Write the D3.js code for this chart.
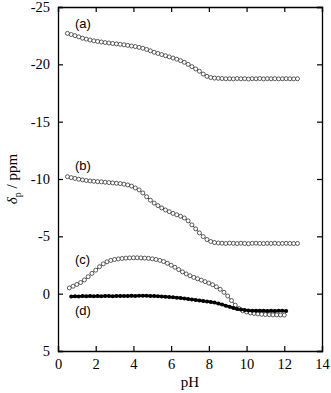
<!DOCTYPE html>
<html><head><meta charset="utf-8">
<script src="https://cdn.jsdelivr.net/npm/d3@7"></script>
<style>body{margin:0;background:#fff;}svg{display:block;}</style>
</head><body>
<script>
// ---- data ----
const pHA = [0.5,0.7,0.9,1.1,1.3,1.5,1.7,1.9,2.1,2.3,2.5,2.7,2.9,3.1,3.3,3.5,3.7,3.9,4.1,4.3,4.5,4.7,4.9,5.1,5.3,5.5,5.7,5.9,6.1,6.3,6.5,6.7,6.9,7.1,7.3,7.5,7.7,7.9,8.1,8.3,8.5,8.7,8.9,9.1,9.3,9.5,9.7,9.9,10.1,10.3,10.5,10.7,10.9,11.1,11.3,11.5,11.7,11.9,12.1,12.3,12.5,12.7];
const shiftA = [-22.7,-22.6,-22.5,-22.4,-22.28,-22.2,-22.12,-22.05,-22.0,-21.95,-21.9,-21.86,-21.82,-21.78,-21.75,-21.7,-21.65,-21.6,-21.55,-21.48,-21.4,-21.3,-21.18,-21.05,-20.95,-20.85,-20.75,-20.65,-20.55,-20.45,-20.32,-20.18,-20.0,-19.8,-19.6,-19.4,-19.15,-18.95,-18.85,-18.8,-18.78,-18.76,-18.74,-18.75,-18.73,-18.76,-18.74,-18.75,-18.72,-18.75,-18.74,-18.76,-18.73,-18.75,-18.74,-18.75,-18.73,-18.74,-18.75,-18.74,-18.73,-18.74];
const pHB = [0.5,0.7,0.9,1.1,1.3,1.5,1.7,1.9,2.1,2.3,2.5,2.7,2.9,3.1,3.3,3.5,3.7,3.9,4.1,4.3,4.5,4.7,4.9,5.1,5.3,5.5,5.7,5.9,6.1,6.3,6.5,6.7,6.9,7.1,7.3,7.5,7.7,7.9,8.1,8.3,8.5,8.7,8.9,9.1,9.3,9.5,9.7,9.9,10.1,10.3,10.5,10.7,10.9,11.1,11.3,11.5,11.7,11.9,12.1,12.3,12.5,12.7];
const shiftB = [-10.2,-10.12,-10.05,-9.98,-9.92,-9.87,-9.83,-9.8,-9.77,-9.75,-9.72,-9.69,-9.66,-9.63,-9.6,-9.55,-9.48,-9.38,-9.22,-9.05,-8.78,-8.45,-8.15,-7.9,-7.68,-7.48,-7.3,-7.15,-7.0,-6.88,-6.75,-6.6,-6.35,-6.0,-5.65,-5.3,-4.98,-4.72,-4.55,-4.46,-4.42,-4.4,-4.38,-4.41,-4.39,-4.37,-4.4,-4.38,-4.36,-4.39,-4.4,-4.38,-4.37,-4.39,-4.38,-4.4,-4.37,-4.38,-4.39,-4.38,-4.37,-4.38];
const pHC = [0.6,0.8,1.0,1.2,1.4,1.6,1.8,2.0,2.2,2.4,2.6,2.8,3.0,3.2,3.4,3.6,3.8,4.0,4.2,4.4,4.6,4.8,5.0,5.2,5.4,5.6,5.8,6.0,6.2,6.4,6.6,6.8,7.0,7.2,7.4,7.6,7.8,8.0,8.2,8.4,8.6,8.8,9.0,9.2,9.4,9.6,9.8,10.0,10.2,10.4,10.6,10.8,11.0,11.2,11.4,11.6,11.8,12.0];
const shiftC = [-0.5,-0.65,-0.8,-0.97,-1.2,-1.48,-1.77,-2.05,-2.35,-2.6,-2.78,-2.9,-2.98,-3.03,-3.07,-3.1,-3.12,-3.13,-3.13,-3.12,-3.1,-3.08,-3.04,-2.98,-2.9,-2.8,-2.65,-2.48,-2.3,-2.1,-1.9,-1.72,-1.56,-1.42,-1.3,-1.18,-1.05,-0.92,-0.78,-0.6,-0.38,-0.12,0.2,0.6,1.0,1.3,1.5,1.6,1.68,1.73,1.77,1.8,1.82,1.83,1.85,1.85,1.86,1.87];
const pHD = [0.7,0.9,1.1,1.3,1.5,1.7,1.9,2.1,2.3,2.5,2.7,2.9,3.1,3.3,3.5,3.7,3.9,4.1,4.3,4.5,4.7,4.9,5.1,5.3,5.5,5.7,5.9,6.1,6.3,6.5,6.7,6.9,7.1,7.3,7.5,7.7,7.9,8.1,8.3,8.5,8.7,8.9,9.1,9.3,9.5,9.7,9.9,10.1,10.3,10.5,10.7,10.9,11.1,11.3,11.5,11.7,11.9,12.1];
const shiftD = [0.25,0.22,0.24,0.2,0.23,0.21,0.22,0.2,0.22,0.21,0.2,0.22,0.2,0.21,0.2,0.2,0.19,0.2,0.18,0.19,0.18,0.2,0.2,0.22,0.24,0.27,0.3,0.32,0.35,0.38,0.42,0.46,0.5,0.55,0.6,0.64,0.68,0.72,0.78,0.86,0.95,1.05,1.15,1.25,1.33,1.39,1.43,1.46,1.48,1.5,1.5,1.5,1.51,1.5,1.51,1.5,1.5,1.51];
const seriesLabels = ["(a)","(b)","(c)","(d)"];
const xTicks = [0,2,4,6,8,10,12,14];
const yTicks = [-25,-20,-15,-10,-5,0,5];

// ---- layout ----
const W = 331, H = 393;
const m = {left:58, top:7, right:9, bottom:42};
const svg = d3.select("body").append("svg").attr("width",W).attr("height",H);
const x = d3.scaleLinear().domain([0,14]).range([m.left, W-m.right]);
const y = d3.scaleLinear().domain([-25,5]).range([m.top, H-m.bottom]);

const serif = "'Liberation Serif','Times New Roman',serif";
const sans = "'Liberation Sans',Arial,sans-serif";

// axes with inward ticks
const tl = 5;
const gB = svg.append("g").attr("transform",`translate(0,${y(5)})`)
  .call(d3.axisBottom(x).tickValues(xTicks).tickSize(-tl).tickPadding(8).tickFormat(d3.format("d")));
const gT = svg.append("g").attr("transform",`translate(0,${y(-25)})`)
  .call(d3.axisTop(x).tickValues(xTicks).tickSize(-tl).tickFormat(""));
const gL = svg.append("g").attr("transform",`translate(${x(0)},0)`)
  .call(d3.axisLeft(y).tickValues(yTicks).tickSize(-tl).tickPadding(8).tickFormat(d3.format("d")));
const gR = svg.append("g").attr("transform",`translate(${x(14)},0)`)
  .call(d3.axisRight(y).tickValues(yTicks).tickSize(-tl).tickFormat(""));
[gB,gT,gL,gR].forEach(g=>{
  g.select(".domain").attr("stroke","#000").attr("stroke-width",1.3);
  g.selectAll(".tick line").attr("stroke","#000").attr("stroke-width",1.2);
  g.selectAll(".tick text").attr("font-family",serif).attr("font-size",14.5).attr("fill","#000");
});
gL.selectAll(".tick text").text(d=>d<0?"-"+Math.abs(d):d);

// series
const open = [[pHA,shiftA],[pHB,shiftB],[pHC,shiftC]];
const line = d3.line().x(d=>x(d[0])).y(d=>y(d[1]));
open.forEach(([px,py])=>{
  const pts = px.map((v,i)=>[v,py[i]]);
  svg.append("path").datum(pts).attr("d",line).attr("fill","none").attr("stroke","#000").attr("stroke-width",0.8);
  svg.append("g").selectAll("circle").data(pts).join("circle")
    .attr("cx",d=>x(d[0])).attr("cy",d=>y(d[1])).attr("r",2)
    .attr("fill","#fff").attr("stroke","#333").attr("stroke-width",0.8);
});
const ptsD = pHD.map((v,i)=>[v,shiftD[i]]);
svg.append("path").datum(ptsD).attr("d",line).attr("fill","none").attr("stroke","#000").attr("stroke-width",2.5);
svg.append("g").selectAll("circle").data(ptsD).join("circle")
  .attr("cx",d=>x(d[0])).attr("cy",d=>y(d[1])).attr("r",2).attr("fill","#000");

// series labels
const labPos = [[0.9,-23.2],[0.9,-10.8],[0.9,-2.6],[0.9,1.9]];
seriesLabels.forEach((t,i)=>{
  svg.append("text").attr("x",x(labPos[i][0])).attr("y",y(labPos[i][1]))
    .attr("font-family",sans).attr("font-size",13).attr("fill","#000").text(t);
});

// axis titles
svg.append("text").attr("x",x(7)).attr("y",387).attr("text-anchor","middle")
  .attr("font-family",serif).attr("font-size",15).text("pH");
const yt = svg.append("text").attr("transform",`translate(17,${(y(-25)+y(5))/2}) rotate(-90)`)
  .attr("text-anchor","middle").attr("font-family",serif).attr("font-size",15);
yt.append("tspan").attr("font-style","italic").text("δ");
yt.append("tspan").attr("font-size",10).attr("dy",4).text("p");
yt.append("tspan").attr("dy",-4).text(" / ppm");
</script>
</body></html>
